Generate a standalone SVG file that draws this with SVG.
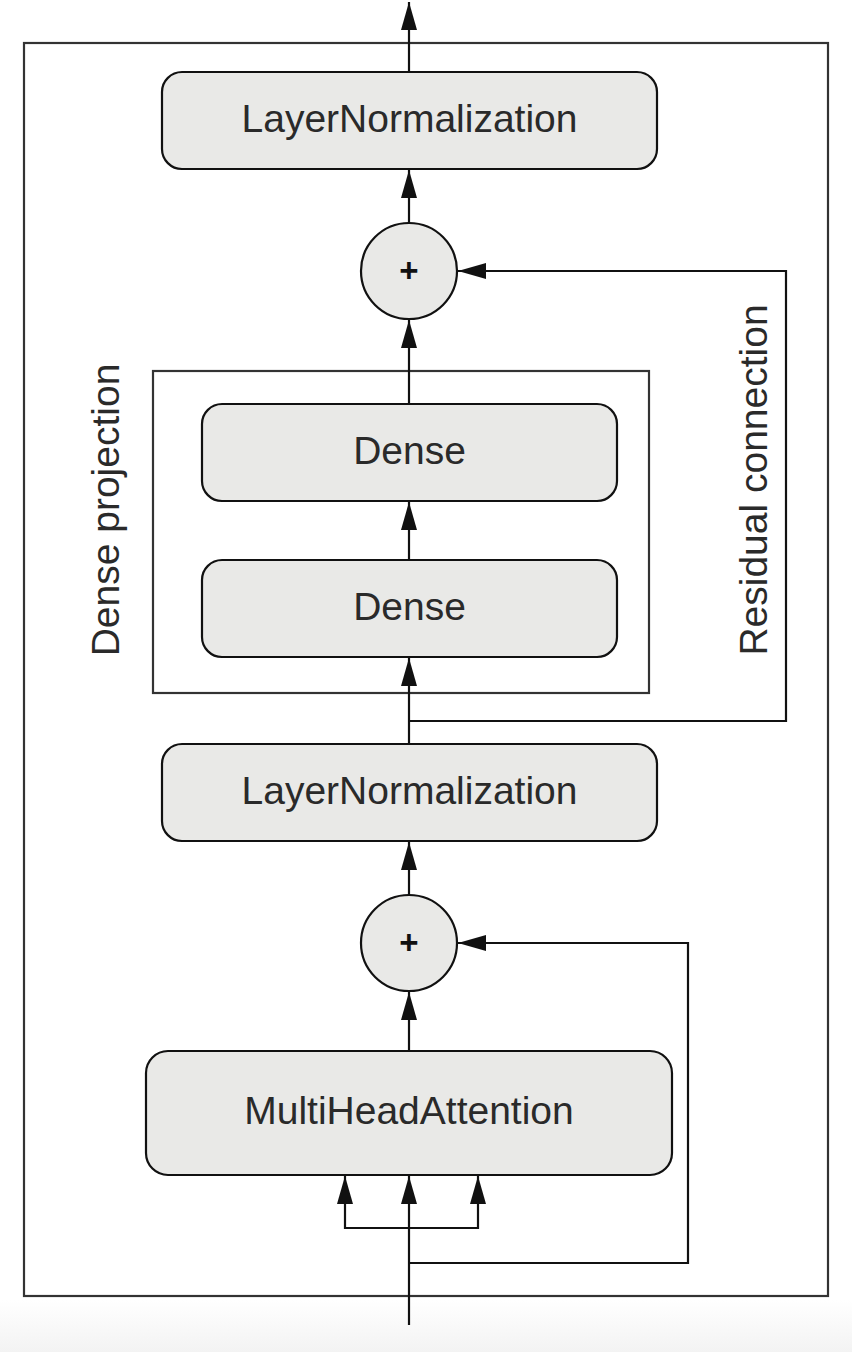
<svg xmlns="http://www.w3.org/2000/svg" width="852" height="1352" viewBox="0 0 852 1352">
<style>
.node{fill:#e9e9e7;stroke:#111;stroke-width:2.2}
.frame{fill:none;stroke:#333;stroke-width:2.2}
.lbl{font-family:"Liberation Sans",Arial,sans-serif;font-size:39px;fill:#2a2a2a;text-anchor:middle}
.plus{font-family:"Liberation Sans",Arial,sans-serif;font-size:33px;font-weight:bold;fill:#111;text-anchor:middle}
.conn{fill:none;stroke:#111;stroke-width:2.2}
</style>
<defs>
<marker id="ah" markerUnits="userSpaceOnUse" markerWidth="30" markerHeight="18" refX="28" refY="8" orient="auto">
<path d="M0,0 L28,8 L0,16 z" fill="#111"/>
</marker>
<linearGradient id="bg" x1="0" y1="0" x2="0" y2="1">
<stop offset="0" stop-color="#ffffff"/>
<stop offset="1" stop-color="#f3f3f3"/>
</linearGradient>
</defs>
<rect x="0" y="0" width="852" height="1352" fill="#fff"/>
<rect x="0" y="1300" width="852" height="52" fill="url(#bg)"/>
<g id="outer-frame"><rect class="frame" x="24" y="43" width="804" height="1253"/></g>
<g id="dense-projection-frame"><rect class="frame" x="153" y="371" width="496" height="322"/></g>
<g id="connectors">
<line class="conn" x1="409" y1="72" x2="409" y2="2" marker-end="url(#ah)"/>
<line class="conn" x1="409" y1="223" x2="409" y2="170" marker-end="url(#ah)"/>
<line class="conn" x1="409" y1="404" x2="409" y2="320" marker-end="url(#ah)"/>
<line class="conn" x1="409" y1="560" x2="409" y2="502" marker-end="url(#ah)"/>
<line class="conn" x1="409" y1="744" x2="409" y2="658" marker-end="url(#ah)"/>
<polyline class="conn" points="409,721 786,721 786,271 458,271" marker-end="url(#ah)"/>
<line class="conn" x1="409" y1="895" x2="409" y2="842" marker-end="url(#ah)"/>
<line class="conn" x1="409" y1="1051" x2="409" y2="992" marker-end="url(#ah)"/>
<line class="conn" x1="409" y1="1325" x2="409" y2="1176" marker-end="url(#ah)"/>
<polyline class="conn" points="409,1228 345,1228 345,1176" marker-end="url(#ah)"/>
<polyline class="conn" points="409,1228 478,1228 478,1176" marker-end="url(#ah)"/>
<polyline class="conn" points="409,1263 688,1263 688,943 458,943" marker-end="url(#ah)"/>
</g>
<g id="layernorm-top"><rect class="node" x="162" y="72" width="495" height="97" rx="20"/><text class="lbl" x="409.5" y="132">LayerNormalization</text></g>
<g id="add-top"><circle class="node" cx="409" cy="271" r="48"/><text class="plus" x="409" y="282">+</text></g>
<g id="dense-top"><rect class="node" x="202" y="404" width="415" height="97" rx="20"/><text class="lbl" x="409.5" y="464">Dense</text></g>
<g id="dense-bottom"><rect class="node" x="202" y="560" width="415" height="97" rx="20"/><text class="lbl" x="409.5" y="620">Dense</text></g>
<g id="layernorm-bottom"><rect class="node" x="162" y="744" width="495" height="97" rx="20"/><text class="lbl" x="409.5" y="804">LayerNormalization</text></g>
<g id="add-bottom"><circle class="node" cx="409" cy="943" r="48"/><text class="plus" x="409" y="954">+</text></g>
<g id="multihead-attention"><rect class="node" x="146" y="1051" width="526" height="124" rx="22"/><text class="lbl" x="409" y="1124">MultiHeadAttention</text></g>
<g id="label-dense-projection"><text class="lbl" transform="translate(119,510) rotate(-90)">Dense projection</text></g>
<g id="label-residual"><text class="lbl" transform="translate(767,480) rotate(-90)">Residual connection</text></g>
</svg>
